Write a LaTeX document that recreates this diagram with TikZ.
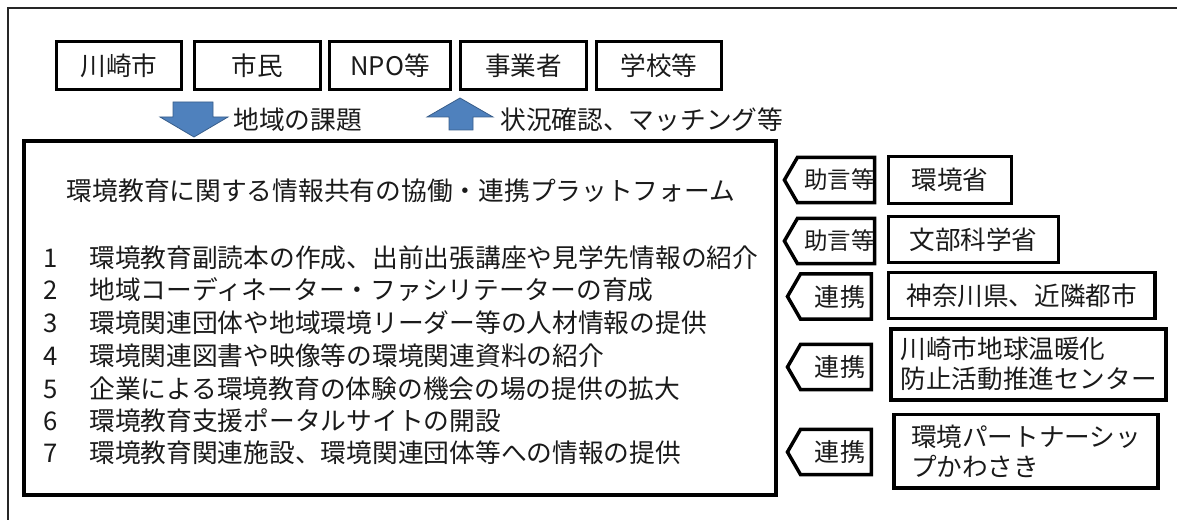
\documentclass[tikz,border=0pt]{standalone}
\usepackage{fontspec}
\setmainfont{Noto Sans CJK JP}
\usetikzlibrary{shapes.symbols}
\definecolor{arrowblue}{HTML}{4F81BD}
\definecolor{arrowedge}{HTML}{385D8A}
\definecolor{txt}{HTML}{1A1A1A}
\begin{document}
\begin{tikzpicture}[x=0.75pt,y=-0.75pt,
  box/.style={draw=black, line width=2.6pt, inner sep=0pt, text=txt, font=\fontsize{19.2}{22.5}\selectfont, align=left},
  tagbox/.style={draw=black, line width=2.6pt, signal, signal to=west, signal pointer angle=120,
     inner sep=0pt, minimum width=63pt, minimum height=34pt, text=txt},
  tagsmall/.style={tagbox, font=\fontsize{17.6}{20}\selectfont},
  tagbig/.style={tagbox, font=\fontsize{18.8}{22}\selectfont},
  plain/.style={inner sep=0pt, text=txt, font=\fontsize{19.3}{23}\selectfont},
  blockarrow/.style={fill=arrowblue, draw=arrowedge, line width=0.6pt, line join=miter}
]
\useasboundingbox (0,0) rectangle (1177,520);
% outer frame
\draw[line width=1.1pt, black!85] (8,520) -- (8,8) -- (1180,8);

% top boxes
\node[box, minimum width=93.75pt, minimum height=36pt] (kawasaki) at (119,65.5) {川崎市};
\node[box, minimum width=94.5pt, minimum height=36pt] (shimin) at (257.5,65.5) {市民};
\node[box, minimum width=90.75pt, minimum height=36pt] (npo) at (390,65.5) {NPO等};
\node[box, minimum width=94.5pt, minimum height=36pt] (jigyo) at (523.5,65.5) {事業者};
\node[box, minimum width=93.75pt, minimum height=36pt] (gakko) at (659,65.5) {学校等};

% main box
\node[box, line width=3pt, minimum width=564pt, minimum height=265.5pt] (main) at (400,318) {};

% block arrows
\coordinate (dtip) at (194,137);
\coordinate (utip) at (460,98);
\draw[blockarrow] (173,102) -- (213,102) -- (213,117) -- (228,117) -- (dtip) -- (160,117) -- (173,117) -- cycle;
\draw[blockarrow] (utip) -- (493,117) -- (473,117) -- (473,130) -- (449,130) -- (449,117) -- (427,117) -- cycle;
\node[plain, anchor=west] (kadai) at (233,120) {地域の課題};
\node[plain, anchor=west] (jokyo) at (500,120) {状況確認、マッチング等};

% title and items
\node[plain] (title) at (401,191) {環境教育に関する情報共有の協働・連携プラットフォーム};
\foreach \n/\y/\t in {1/258/環境教育副読本の作成、出前出張講座や見学先情報の紹介,
                      2/290/地域コーディネーター・ファシリテーターの育成,
                      3/323/環境関連団体や地域環境リーダー等の人材情報の提供,
                      4/356/環境関連図書や映像等の環境関連資料の紹介,
                      5/389/企業による環境教育の体験の機会の場の提供の拡大,
                      6/421/環境教育支援ポータルサイトの開設,
                      7/453/環境教育関連施設、環境関連団体等への情報の提供}{
  \node[plain] (num\n) at (51,\y) {\n};
  \node[plain, anchor=west] (item\n) at (89,\y) {\t};
}

% right side
\node[tagsmall] (tag1) at (836,180) {\hspace*{5pt}助言等};
\node[box, minimum width=92.25pt, minimum height=35.25pt] (r1) at (950,180) {環境省};
\node[tagsmall] (tag2) at (836,241) {\hspace*{5pt}助言等};
\node[box, minimum width=127.5pt, minimum height=34.5pt] (r2) at (973.5,239.5) {文部科学省};
\node[tagbig] (tag3) at (836,296.5) {\hspace*{6pt}連携};
\node[box, minimum width=199.9pt, minimum height=34.5pt] (r3) at (1021.75,295.5) {神奈川県、近隣都市};
\node[tagbig] (tag4) at (836,367) {\hspace*{6pt}連携};
\node[box, line width=3pt, minimum width=205.9pt, minimum height=53.6pt] (r4) at (1028.75,364.25) {川崎市地球温暖化\\防止活動推進センター};
\node[tagbig] (tag5) at (836,452) {\hspace*{6pt}連携};
\node[box, minimum width=198pt, minimum height=55.1pt] (r5) at (1026,451.25) {環境パートナーシッ\\プかわさき};
\end{tikzpicture}
\end{document}
